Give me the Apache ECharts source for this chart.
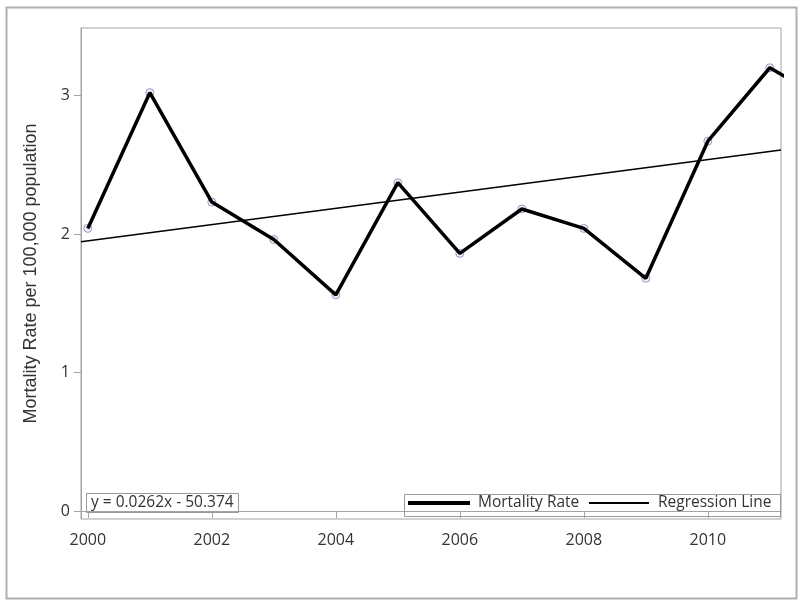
<!DOCTYPE html>
<html>
<head>
<meta charset="utf-8">
<script src="https://cdn.jsdelivr.net/npm/echarts@6/dist/echarts.min.js"></script>
<style>
html,body{margin:0;padding:0;background:#fff;}
#chart{width:800px;height:602px;}
</style>
</head>
<body>
<div id="chart"></div>
<script>
// Data
var years = [2000, 2001, 2002, 2003, 2004, 2005, 2006, 2007, 2008, 2009, 2010, 2011, 2012];
var mortality = [2.04, 3.02, 2.23, 1.96, 1.56, 2.37, 1.86, 2.18, 2.04, 1.68, 2.67, 3.20, 2.94];
var regX = [1999.89, 2011.18];
var regY = [1.944, 2.606];
var xTicks = [2000, 2002, 2004, 2006, 2008, 2010];
var yTicks = [0, 1, 2, 3];
var equation = 'y = 0.0262x - 50.374';

var mortPts = years.map(function (y, i) { return [y, mortality[i]]; });
var regPts = regX.map(function (x, i) { return [x, regY[i]]; });

var gray = '#a3a3a3';
var txt = '#333';
var font = '"Open Sans", sans-serif';

var chart = echarts.init(document.getElementById('chart'), null, {renderer: 'canvas'});
chart.setOption({
  animation: false,
  backgroundColor: '#fff',
  title: {
    text: equation,
    left: 86, top: 493,
    padding: [2, 5],
    borderColor: '#999', borderWidth: 1,
    textStyle: {fontFamily: font, fontSize: 15.5, fontWeight: 'normal', color: txt, lineHeight: 16}
  },
  legend: [
    {
      data: [{name: 'Mortality Rate', icon: 'rect'}],
      left: 408, top: 495, padding: 0,
      itemWidth: 62, itemHeight: 4,
      textStyle: {fontFamily: font, fontSize: 15.5, color: txt, lineHeight: 16, padding: [0, 0, 0, 3]},
      selectedMode: false
    },
    {
      data: [{name: 'Regression Line', icon: 'rect'}],
      left: 589, top: 495, padding: 0,
      itemWidth: 60, itemHeight: 2,
      textStyle: {fontFamily: font, fontSize: 15.5, color: txt, lineHeight: 16, padding: [0, 0, 0, 4]},
      selectedMode: false
    }
  ],
  graphic: [
    {type: 'rect', left: 4, top: 5, shape: {width: 790, height: 591},
     style: {fill: 'none', stroke: '#b0b0b0', lineWidth: 2}, silent: true},
    {type: 'rect', left: 402, top: 492, shape: {width: 376, height: 22},
     style: {fill: 'none', stroke: '#999', lineWidth: 1}, silent: true, z: 10}
  ],
  grid: {left: 81, top: 28, right: 19, bottom: 83, show: true, borderColor: gray, borderWidth: 1, backgroundColor: 'transparent'},
  xAxis: {
    type: 'value', min: 1999.89, max: 2011.18,
    axisLine: {show: true, lineStyle: {color: gray}},
    axisTick: {show: true, customValues: xTicks, length: 7, lineStyle: {color: gray}},
    axisLabel: {customValues: xTicks, margin: 13, fontFamily: font, fontSize: 16, color: txt,
      formatter: function (v) { return String(Math.round(v)); }},
    splitLine: {show: false}
  },
  yAxis: {
    type: 'value', min: -0.058, max: 3.487,
    name: 'Mortality Rate per 100,000 population',
    nameLocation: 'middle', nameGap: 41,
    nameTextStyle: {fontFamily: '"Liberation Sans", Arial, sans-serif', fontSize: 18, color: txt},
    axisLine: {show: true, lineStyle: {color: gray}},
    axisTick: {show: true, customValues: yTicks, length: 7, lineStyle: {color: gray}},
    axisLabel: {customValues: yTicks, margin: 11, fontFamily: font, fontSize: 16, color: txt},
    splitLine: {show: false}
  },
  series: [
    {
      name: 'Mortality markers', type: 'scatter', data: mortPts,
      symbol: 'circle', symbolSize: 8, z: 1,
      itemStyle: {color: 'rgba(200,205,235,0.35)', borderColor: '#7d82b3', borderWidth: 1},
      clip: true, silent: true
    },
    {
      name: 'Mortality Rate', type: 'line', data: mortPts,
      showSymbol: false, z: 3, clip: true,
      lineStyle: {color: '#000', width: 3.5}, itemStyle: {color: '#000'}
    },
    {
      name: 'Regression Line', type: 'line', data: regPts,
      showSymbol: false, z: 2, clip: true,
      lineStyle: {color: '#000', width: 1.6}, itemStyle: {color: '#000'}
    }
  ]
});
</script>
</body>
</html>
